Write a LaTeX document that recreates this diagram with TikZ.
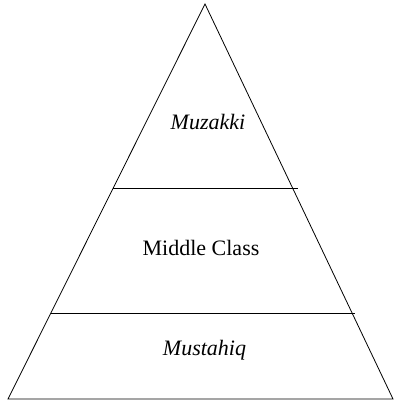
\documentclass[tikz,border=0pt]{standalone}
\usepackage{fontspec}
\setmainfont{Liberation Serif}
\begin{document}
\begin{tikzpicture}[x=1pt,y=-1pt,line width=0.8pt,
  lbl/.style={anchor=base,inner sep=0pt,font=\fontsize{22}{26}\selectfont}]
\useasboundingbox (0,0) rectangle (395,403);
\coordinate (apex) at (205,4);
\coordinate (bl) at (8,399);
\coordinate (br) at (393,399);
\coordinate (l1) at (113.2,188);
\coordinate (r1) at (297.6,188);
\coordinate (l2) at (50.9,313);
\coordinate (r2) at (355.1,313);
\draw (apex) -- (bl) -- (br) -- cycle;
\draw (l1) -- (r1);
\draw (l2) -- (r2);
\node[lbl] (muz) at (208,130) {\textit{Muzakki}};
\node[lbl] (mid) at (201,255) {Middle Class};
\node[lbl] (mus) at (204.5,355.5) {\textit{Mustahiq}};
\end{tikzpicture}
\end{document}
